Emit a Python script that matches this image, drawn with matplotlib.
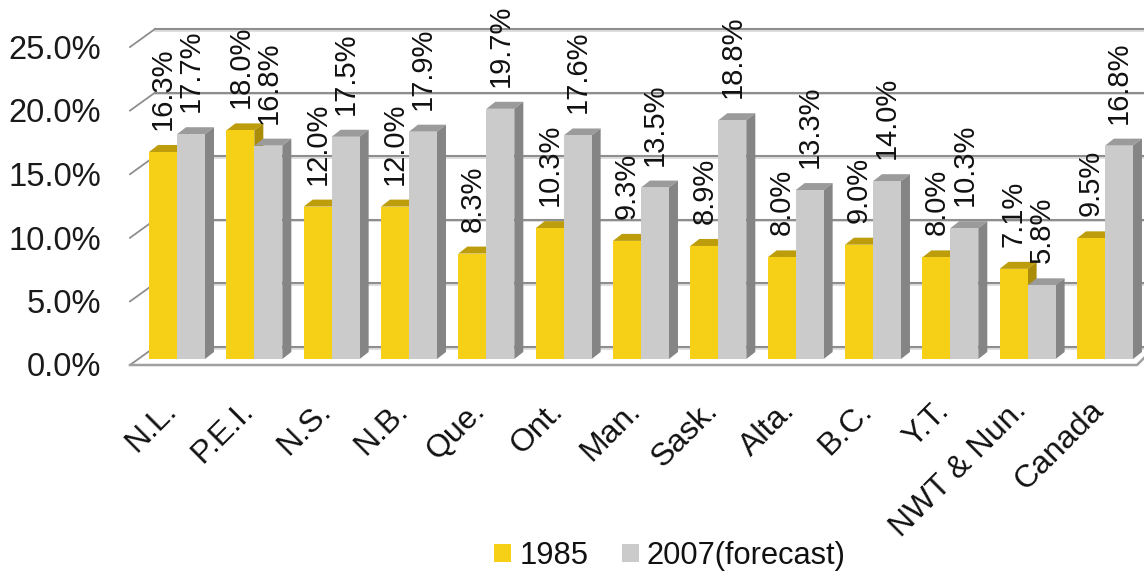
import numpy as np
import matplotlib
matplotlib.use("Agg")
import matplotlib.pyplot as plt
from matplotlib.patches import Polygon, Patch
from matplotlib.transforms import ScaledTranslation

plt.rcParams["font.family"] = ["Liberation Sans", "DejaVu Sans"]

# data
categories = ["N.L.", "P.E.I.", "N.S.", "N.B.", "Que.", "Ont.", "Man.", "Sask.",
              "Alta.", "B.C.", "Y.T.", "NWT & Nun.", "Canada"]
v1985 = [16.3, 18.0, 12.0, 12.0, 8.3, 10.3, 9.3, 8.9, 8.0, 9.0, 8.0, 7.1, 9.5]
v2007 = [17.7, 16.8, 17.5, 17.9, 19.7, 17.6, 13.5, 18.8, 13.3, 14.0, 10.3, 5.8, 16.8]
yticks = [0, 5, 10, 15, 20, 25]

# pixel geometry of the reference
W, H = 1144, 571
px_x, px_y = 77.33, 12.7   # pixels per category / per percent
bar_w = 28 / px_x
dx, dy = 9 / px_x, 7 / px_y    # bar depth
gx, gy = 25 / px_x, 18 / px_y  # floor depth

fig = plt.figure(figsize=(W / 100, H / 100), dpi=100)
left, bottom, top = 130, 365, 20
ax = fig.add_axes([left / W, 1 - bottom / H, 1 - left / W, (bottom - top) / H])
ax.set_xlim((left - 177) / px_x, (W - 177) / px_x)
ax.set_ylim((359 - bottom) / px_y, (359 - top) / px_y)
for s in ax.spines.values():
    s.set_visible(False)

x0, x1 = ax.get_xlim()
ymin = ax.get_ylim()[0]
grid_c = "#8e8e8e"
# back wall gridlines and the left edge diagonals
for v in yticks:
    yb = ymin + gy + v * 63.6 / 5 / px_y
    ax.plot([x0 + gx, x1], [yb, yb], color="#d8d8d8", lw=1.2, zorder=1, clip_on=False,
            transform=ax.transData + ScaledTranslation(0, -1.5 / 100, fig.dpi_scale_trans))
    ax.plot([x0 + gx, x1], [yb, yb], color=grid_c, lw=1.5, zorder=1.1, clip_on=False)
    ax.plot([x0, x0 + gx], [yb - gy, yb], color=grid_c, lw=1.3, zorder=1.1, clip_on=False)
# floor front edge
xr = x1 - 7 / px_x
ax.plot([x0, xr, x1], [ymin, ymin, ymin + 7 / px_y], color="#a0a0a0", lw=1.8, zorder=1.2, clip_on=False)


def bars3d(xs, vals, front, roof, side, z):
    ax.bar(xs, vals, width=bar_w, align="edge", color=front, lw=0, zorder=z + 0.2)
    for xl, v in zip(xs, vals):
        xr_ = xl + bar_w
        ax.add_patch(Polygon([(xl, v), (xr_, v), (xr_ + dx, v + dy), (xl + dx, v + dy)],
                             fc=roof, lw=0, zorder=z, clip_on=False))
        ax.add_patch(Polygon([(xr_, 0), (xr_, v), (xr_ + dx, v + dy), (xr_ + dx, dy)],
                             fc=side, lw=0, zorder=z, clip_on=False))


xc = np.arange(len(categories))
bars3d(xc - bar_w, v1985, "#f6d017", "#bd9d0c", "#ab8c08", 2)
bars3d(xc, v2007, "#cbcbcb", "#9b9b9b", "#858585", 3)

# data labels
for xs, vals in ((xc - bar_w / 2, v1985), (xc + bar_w / 2, v2007)):
    for x, v in zip(xs, vals):
        ax.annotate(f"{v:.1f}%", (x, v), xytext=(0, 22 * 0.72), textcoords="offset points",
                    rotation=90, ha="center", va="bottom", fontsize=21, color="#111111",
                    zorder=6, annotation_clip=False)

# axes text
ax.set_yticks(yticks)
ax.set_yticklabels([f"{v:.1f}%" for v in yticks], fontsize=23.5, color="#1a1a1a")
ax.tick_params(axis="y", length=0, pad=21)
off = ScaledTranslation(0, -5.5 / 100, fig.dpi_scale_trans)
for lab in ax.get_yticklabels():
    lab.set_transform(lab.get_transform() + off)
ax.set_xticks(xc)
ax.set_xticklabels(categories, fontsize=23, rotation=45, ha="right", va="top",
                   rotation_mode="anchor", color="#111111")
ax.tick_params(axis="x", length=0, pad=22)
off_x = ScaledTranslation(-16 / 100, 0, fig.dpi_scale_trans)
for lab in ax.get_xticklabels():
    lab.set_transform(lab.get_transform() + off_x)

handles = [Patch(color="#f6d017", lw=0), Patch(color="#cbcbcb", lw=0)]
fig.legend(handles, ["1985", "2007(forecast)"], loc="center",
           bbox_to_anchor=(670 / W, 1 - 556 / H), ncol=2, frameon=False, fontsize=22.2,
           handlelength=0.55, handleheight=0.55, handletextpad=0.26, columnspacing=1.08,
           labelcolor="#111111")

fig.savefig("out.png", dpi=100)
